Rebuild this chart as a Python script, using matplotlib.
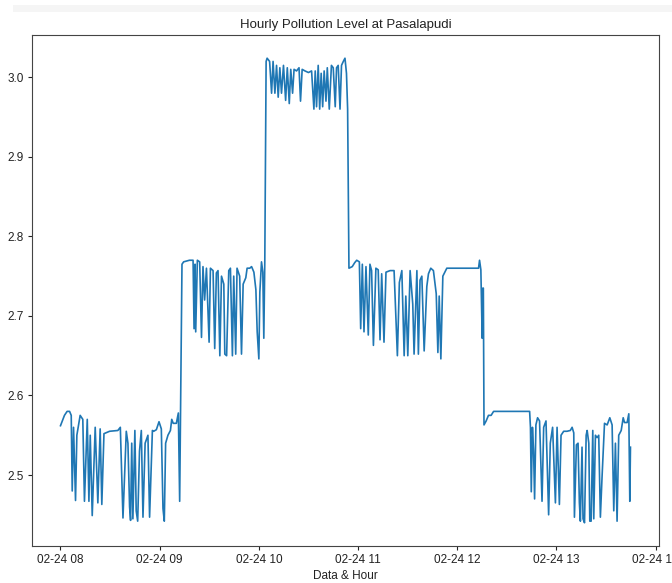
import pandas as pd
import matplotlib
matplotlib.use("Agg")
import matplotlib.pyplot as plt
import matplotlib.dates as mdates
from matplotlib.patches import Rectangle
from matplotlib.ticker import MultipleLocator

# Hourly pollution readings at Pasalapudi
start_time = "2023-02-24 08:00"

# minutes after 08:00 for every reading
minutes = [
    # 08:00 - 09:13
    0, 2.4, 4, 5.5, 6.5, 7.1, 7.9, 9.1, 9.9, 11.9, 13.5, 14.5, 16.2, 17.2, 18, 19.2,
    21, 22.6, 24, 25, 26.3, 29.7, 34.7, 36.2, 37.8, 39.8, 40.8, 41.8, 42.4, 43.1,
    43.8, 45, 45.8, 46.7, 47.8, 48.9, 49.9, 51.2, 52.9, 53.9, 55.6, 56.4, 58, 59.6,
    61, 62, 62.8, 63.6, 65, 66.5, 67.3, 68.2, 70.1, 71.3, 72.1, 72.6,
    # 09:13 - 10:04
    73.5, 74.5, 78, 80.2, 80.8, 81.4, 81.8, 82.8, 84.2, 85.3, 86.2, 87.2, 88.3, 89.9,
    90.7, 92.3, 93.3, 94.3, 95.3, 96.4, 97.4, 98.8, 99.4, 100.5, 101.8, 102.8, 104,
    104.8, 106, 106.8, 108.4, 109.5, 110.5, 112.1, 112.9, 114.5, 115.6, 117, 118.2,
    119, 120, 120.6, 121.6, 122.4, 123, 123.6,
    # 10:04 - 10:54
    124.4, 125, 126.5, 127.7, 128.6, 129.7, 130.7, 131.7, 132.7, 133.7, 134.9, 136.2,
    137.2, 138.4, 139.3, 140.4, 141.3, 142.8, 144.3, 145.2, 146.2, 147.9, 150, 151.9,
    153.3, 154.1, 154.9, 155.9, 156.8, 157.7, 158.6, 159.5, 160.6, 161.4, 162.6,
    163.9, 165, 166.2, 167, 168, 169.1, 170, 171.1, 172.1, 173, 173.7,
    # 10:54 - 12:16
    174.5, 176.5, 178, 179.2, 180.8, 181.6, 182.6, 183.6, 184.8, 186.2, 187.2, 188.2,
    189.3, 190.8, 192.2, 193.3, 194.3, 195.7, 196.9, 199.4, 201.8, 203.8, 205, 206.5,
    207.9, 208.9, 210.1, 211.5, 213.1, 213.9, 215.6, 216.5, 217.5, 218.6, 220, 221.6,
    222.6, 224, 225.6, 227.3, 228.3, 229.1, 230.1, 231.3, 233.7, 252.9, 253.5, 254.3,
    255.1, 255.5, 255.8,
    # 12:16 - 13:45
    256.2, 257.5, 258.9, 260.5, 262, 283.8, 284.3, 284.8, 285.5, 286.2, 286.8, 287.6,
    288.6, 289.8, 291.3, 292.3, 293.7, 295.3, 296.3, 297.7, 299.4, 300.4, 301.8,
    302.8, 304.4, 306.4, 308.4, 309.5, 310.5, 310.9, 312.1, 313.1, 313.9, 314.5,
    315.5, 316.1, 317, 318, 318.6, 319.6, 320.2, 321, 322, 322.6, 323.6, 324.6, 325.6,
    326.6, 327.6, 329.1, 330.7, 332.3, 333.7, 334.7, 335.7, 336.7, 337.7, 339.2,
    340.4, 341.2, 342.8, 343.8, 344.4, 344.8,
]

pollution = [
    # 08:00 - 09:13
    2.562, 2.575, 2.58, 2.58, 2.575, 2.48, 2.56, 2.468, 2.55, 2.575, 2.57, 2.467, 2.57,
    2.467, 2.55, 2.449, 2.56, 2.465, 2.558, 2.463, 2.552, 2.555, 2.556, 2.56, 2.446,
    2.555, 2.54, 2.46, 2.443, 2.54, 2.445, 2.556, 2.455, 2.442, 2.53, 2.556, 2.447,
    2.54, 2.55, 2.447, 2.556, 2.555, 2.557, 2.567, 2.558, 2.458, 2.442, 2.54, 2.55,
    2.556, 2.57, 2.565, 2.565, 2.578, 2.467, 2.57,
    # 09:13 - 10:04
    2.765, 2.768, 2.77, 2.77, 2.684, 2.765, 2.68, 2.77, 2.768, 2.673, 2.762, 2.72,
    2.76, 2.667, 2.76, 2.757, 2.659, 2.754, 2.757, 2.65, 2.75, 2.74, 2.652, 2.65,
    2.757, 2.76, 2.65, 2.75, 2.652, 2.76, 2.75, 2.652, 2.74, 2.748, 2.76, 2.76, 2.762,
    2.755, 2.733, 2.68, 2.646, 2.73, 2.768, 2.755, 2.672, 2.77,
    # 10:04 - 10:54
    3.02, 3.024, 3.02, 2.98, 3.02, 2.98, 3.015, 2.975, 3.012, 2.98, 3.015, 2.971,
    3.012, 2.967, 3.01, 2.98, 3.01, 3.008, 3.012, 2.97, 3.01, 3.008, 3.006, 3.008,
    2.96, 3.008, 2.963, 3.015, 2.96, 3.005, 2.963, 3.008, 2.97, 3.012, 2.96, 3.015,
    3.012, 2.963, 3.012, 3.015, 2.96, 3.015, 3.02, 3.024, 3.005, 2.96,
    # 10:54 - 12:16
    2.76, 2.762, 2.767, 2.77, 2.768, 2.684, 2.765, 2.68, 2.762, 2.676, 2.765, 2.757,
    2.663, 2.76, 2.758, 2.67, 2.753, 2.667, 2.755, 2.757, 2.757, 2.65, 2.742, 2.757,
    2.65, 2.725, 2.65, 2.757, 2.715, 2.652, 2.757, 2.652, 2.745, 2.75, 2.656, 2.737,
    2.753, 2.76, 2.757, 2.728, 2.654, 2.725, 2.646, 2.75, 2.76, 2.76, 2.77, 2.758,
    2.672, 2.735, 2.735,
    # 12:16 - 13:45
    2.563, 2.568, 2.575, 2.575, 2.58, 2.58, 2.56, 2.479, 2.56, 2.53, 2.47, 2.563,
    2.572, 2.568, 2.467, 2.56, 2.568, 2.45, 2.54, 2.56, 2.465, 2.56, 2.463, 2.55,
    2.555, 2.555, 2.556, 2.56, 2.553, 2.447, 2.538, 2.54, 2.465, 2.442, 2.535, 2.445,
    2.44, 2.55, 2.556, 2.54, 2.442, 2.442, 2.556, 2.445, 2.55, 2.547, 2.55, 2.447,
    2.497, 2.565, 2.563, 2.572, 2.563, 2.455, 2.54, 2.442, 2.55, 2.556, 2.572,
    2.566, 2.566, 2.577, 2.467, 2.535,
]


def plot_pollution():
    # narrow-ish font, the screenshot's text is squeezed sideways
    plt.rcParams["font.family"] = ["Liberation Sans", "DejaVu Sans"]

    times = pd.Timestamp(start_time) + pd.to_timedelta(minutes, unit="m")

    fig = plt.figure(figsize=(6.72, 5.83), dpi=100)
    # faint strip across the top, as in the screenshot
    fig.add_artist(Rectangle((13 / 672, 1 - 12 / 583), 1, 7 / 583,
                             transform=fig.transFigure, color="#f5f5f5", lw=0))
    ax = fig.add_axes([0.0476, 0.0635, 0.933, 0.8765])

    ax.plot(times, pollution, color="#1f77b4", lw=1.2)

    ax.xaxis.set_major_locator(mdates.HourLocator())
    ax.xaxis.set_major_formatter(mdates.DateFormatter("%m-%d %H"))
    ax.yaxis.set_major_locator(MultipleLocator(0.1))

    ax.tick_params(axis="x", length=3, pad=2.5, labelsize=8.5, colors="#222222")
    ax.tick_params(axis="y", length=3, pad=3, labelsize=8.5, colors="#222222")
    for s in ax.spines.values():
        s.set_color("#444444")

    ax.set_title("Hourly Pollution Level at Pasalapudi", fontsize=9.5, pad=5,
                 color="#222222")
    ax.set_xlabel("Data & Hour", fontsize=8.5, labelpad=3.5, color="#222222")

    fig.savefig("out.png", dpi=100)


if __name__ == "__main__":
    plot_pollution()
